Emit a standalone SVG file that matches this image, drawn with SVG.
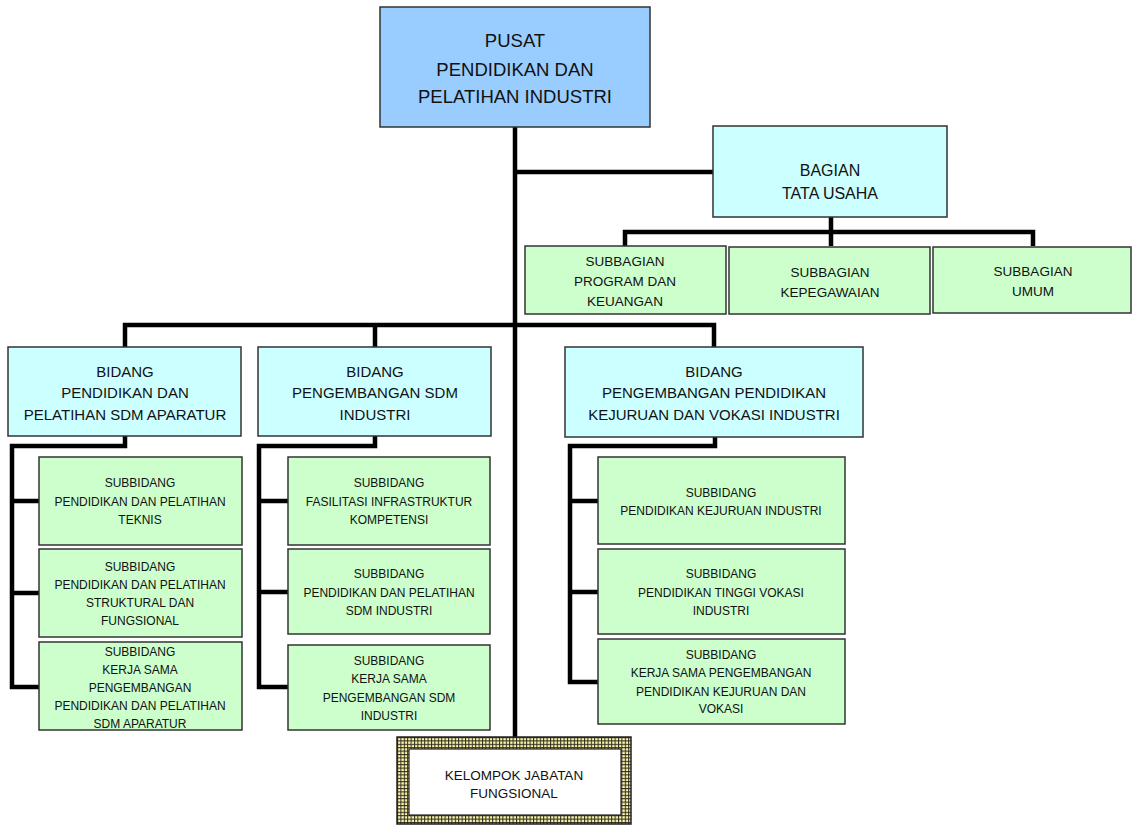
<svg xmlns="http://www.w3.org/2000/svg" width="1133" height="825" viewBox="0 0 1133 825">
<style>
text{font-family:"Liberation Sans",Arial,sans-serif;fill:#111;text-anchor:middle}
.box{stroke:#333;stroke-width:1.5}
.top{fill:#99CCFF}
.bid{fill:#CCFFFF}
.sub{fill:#CCFFCC}
.t18{font-size:18.5px}
.t16{font-size:16px}
.t15{font-size:15px}
.t13{font-size:13.5px}
.t12{font-size:12px}
.conn{fill:none;stroke:#000;stroke-width:4.5;stroke-linejoin:miter}
</style>
<defs>
<pattern id="grid" x="397" y="737" width="3.4" height="3.4" patternUnits="userSpaceOnUse">
<rect width="3.4" height="3.4" fill="#FFF6A8"/>
<path d="M0 0.5H3.4M0.5 0V3.4" stroke="#2a2a20" stroke-width="1"/>
</pattern>
</defs>
<rect width="1133" height="825" fill="#fff"/>
<g id="connectors">
<path class="conn" d="M515 127V737"/>
<path class="conn" d="M515 172H713"/>
<path class="conn" d="M831 217V232M625 246V232H1033V246M831 232V246"/>
<path class="conn" d="M125 347V325H714V347M375 325V347"/>
<path class="conn" d="M125 436V446H12V687H40M12 501H40M12 593H40"/>
<path class="conn" d="M375 436V446H259V687H288M259 501H288M259 592H288"/>
<path class="conn" d="M715 437V446H570V682H598M570 501H598M570 592H598"/>
</g>
<g id="pusat">
<rect class="box top" x="380" y="7" width="270" height="120"/>
<text class="t18" x="515" y="47">PUSAT</text>
<text class="t18" x="515" y="76">PENDIDIKAN DAN</text>
<text class="t18" x="515" y="103">PELATIHAN INDUSTRI</text>
</g>
<g id="bagian-tu">
<rect class="box bid" x="713" y="126" width="234" height="91"/>
<text class="t16" x="830" y="176">BAGIAN</text>
<text class="t16" x="830" y="199">TATA USAHA</text>
</g>
<g id="subbag-program">
<rect class="box sub" x="525" y="246" width="201" height="68"/>
<text class="t13" x="625" y="266">SUBBAGIAN</text>
<text class="t13" x="625" y="286">PROGRAM DAN</text>
<text class="t13" x="625" y="306">KEUANGAN</text>
</g>
<g id="subbag-kepegawaian">
<rect class="box sub" x="729" y="247" width="201" height="67"/>
<text class="t13" x="830" y="277">SUBBAGIAN</text>
<text class="t13" x="830" y="297">KEPEGAWAIAN</text>
</g>
<g id="subbag-umum">
<rect class="box sub" x="933" y="247" width="198" height="66"/>
<text class="t13" x="1033" y="276">SUBBAGIAN</text>
<text class="t13" x="1033" y="296">UMUM</text>
</g>
<g id="bidang-aparatur">
<rect class="box bid" x="8" y="347" width="233" height="89"/>
<text class="t15" x="125" y="377">BIDANG</text>
<text class="t15" x="125" y="398">PENDIDIKAN DAN</text>
<text class="t15" x="125" y="420">PELATIHAN SDM APARATUR</text>
</g>
<g id="bidang-sdm">
<rect class="box bid" x="258" y="347" width="233" height="89"/>
<text class="t15" x="375" y="377">BIDANG</text>
<text class="t15" x="375" y="398">PENGEMBANGAN SDM</text>
<text class="t15" x="375" y="420">INDUSTRI</text>
</g>
<g id="bidang-vokasi">
<rect class="box bid" x="565" y="347" width="298" height="90"/>
<text class="t15" x="714" y="377">BIDANG</text>
<text class="t15" x="714" y="398">PENGEMBANGAN PENDIDIKAN</text>
<text class="t15" x="714" y="420">KEJURUAN DAN VOKASI INDUSTRI</text>
</g>
<g id="subbid-teknis">
<rect class="box sub" x="39" y="457" width="203" height="88"/>
<text class="t12" x="140" y="487">SUBBIDANG</text>
<text class="t12" x="140" y="506">PENDIDIKAN DAN PELATIHAN</text>
<text class="t12" x="140" y="524">TEKNIS</text>
</g>
<g id="subbid-struktural">
<rect class="box sub" x="39" y="549" width="203" height="88"/>
<text class="t12" x="140" y="571">SUBBIDANG</text>
<text class="t12" x="140" y="589">PENDIDIKAN DAN PELATIHAN</text>
<text class="t12" x="140" y="607">STRUKTURAL DAN</text>
<text class="t12" x="140" y="625">FUNGSIONAL</text>
</g>
<g id="subbid-ks-aparatur">
<rect class="box sub" x="39" y="642" width="203" height="88"/>
<text class="t12" x="140" y="656">SUBBIDANG</text>
<text class="t12" x="140" y="674">KERJA SAMA</text>
<text class="t12" x="140" y="692">PENGEMBANGAN</text>
<text class="t12" x="140" y="710">PENDIDIKAN DAN PELATIHAN</text>
<text class="t12" x="140" y="728">SDM APARATUR</text>
</g>
<g id="subbid-fasilitasi">
<rect class="box sub" x="288" y="457" width="202" height="88"/>
<text class="t12" x="389" y="487">SUBBIDANG</text>
<text class="t12" x="389" y="506">FASILITASI INFRASTRUKTUR</text>
<text class="t12" x="389" y="524">KOMPETENSI</text>
</g>
<g id="subbid-sdm-industri">
<rect class="box sub" x="288" y="549" width="202" height="85"/>
<text class="t12" x="389" y="578">SUBBIDANG</text>
<text class="t12" x="389" y="597">PENDIDIKAN DAN PELATIHAN</text>
<text class="t12" x="389" y="615">SDM INDUSTRI</text>
</g>
<g id="subbid-ks-sdm">
<rect class="box sub" x="288" y="645" width="202" height="85"/>
<text class="t12" x="389" y="665">SUBBIDANG</text>
<text class="t12" x="389" y="683">KERJA SAMA</text>
<text class="t12" x="389" y="702">PENGEMBANGAN SDM</text>
<text class="t12" x="389" y="720">INDUSTRI</text>
</g>
<g id="subbid-kejuruan">
<rect class="box sub" x="598" y="457" width="247" height="87"/>
<text class="t12" x="721" y="497">SUBBIDANG</text>
<text class="t12" x="721" y="515">PENDIDIKAN KEJURUAN INDUSTRI</text>
</g>
<g id="subbid-tinggi">
<rect class="box sub" x="598" y="549" width="247" height="85"/>
<text class="t12" x="721" y="578">SUBBIDANG</text>
<text class="t12" x="721" y="597">PENDIDIKAN TINGGI VOKASI</text>
<text class="t12" x="721" y="615">INDUSTRI</text>
</g>
<g id="subbid-ks-vokasi">
<rect class="box sub" x="598" y="639" width="247" height="85"/>
<text class="t12" x="721" y="659">SUBBIDANG</text>
<text class="t12" x="721" y="677">KERJA SAMA PENGEMBANGAN</text>
<text class="t12" x="721" y="696">PENDIDIKAN KEJURUAN DAN</text>
<text class="t12" x="721" y="713">VOKASI</text>
</g>
<g id="kelompok-jf">
<rect x="397" y="737" width="234" height="87" fill="url(#grid)" stroke="#222" stroke-width="1.5"/>
<rect x="409" y="749" width="212" height="66" fill="#fff" stroke="#222" stroke-width="1.2"/>
<text class="t13" x="514" y="780">KELOMPOK JABATAN</text>
<text class="t13" x="514" y="798">FUNGSIONAL</text>
</g>
</svg>
